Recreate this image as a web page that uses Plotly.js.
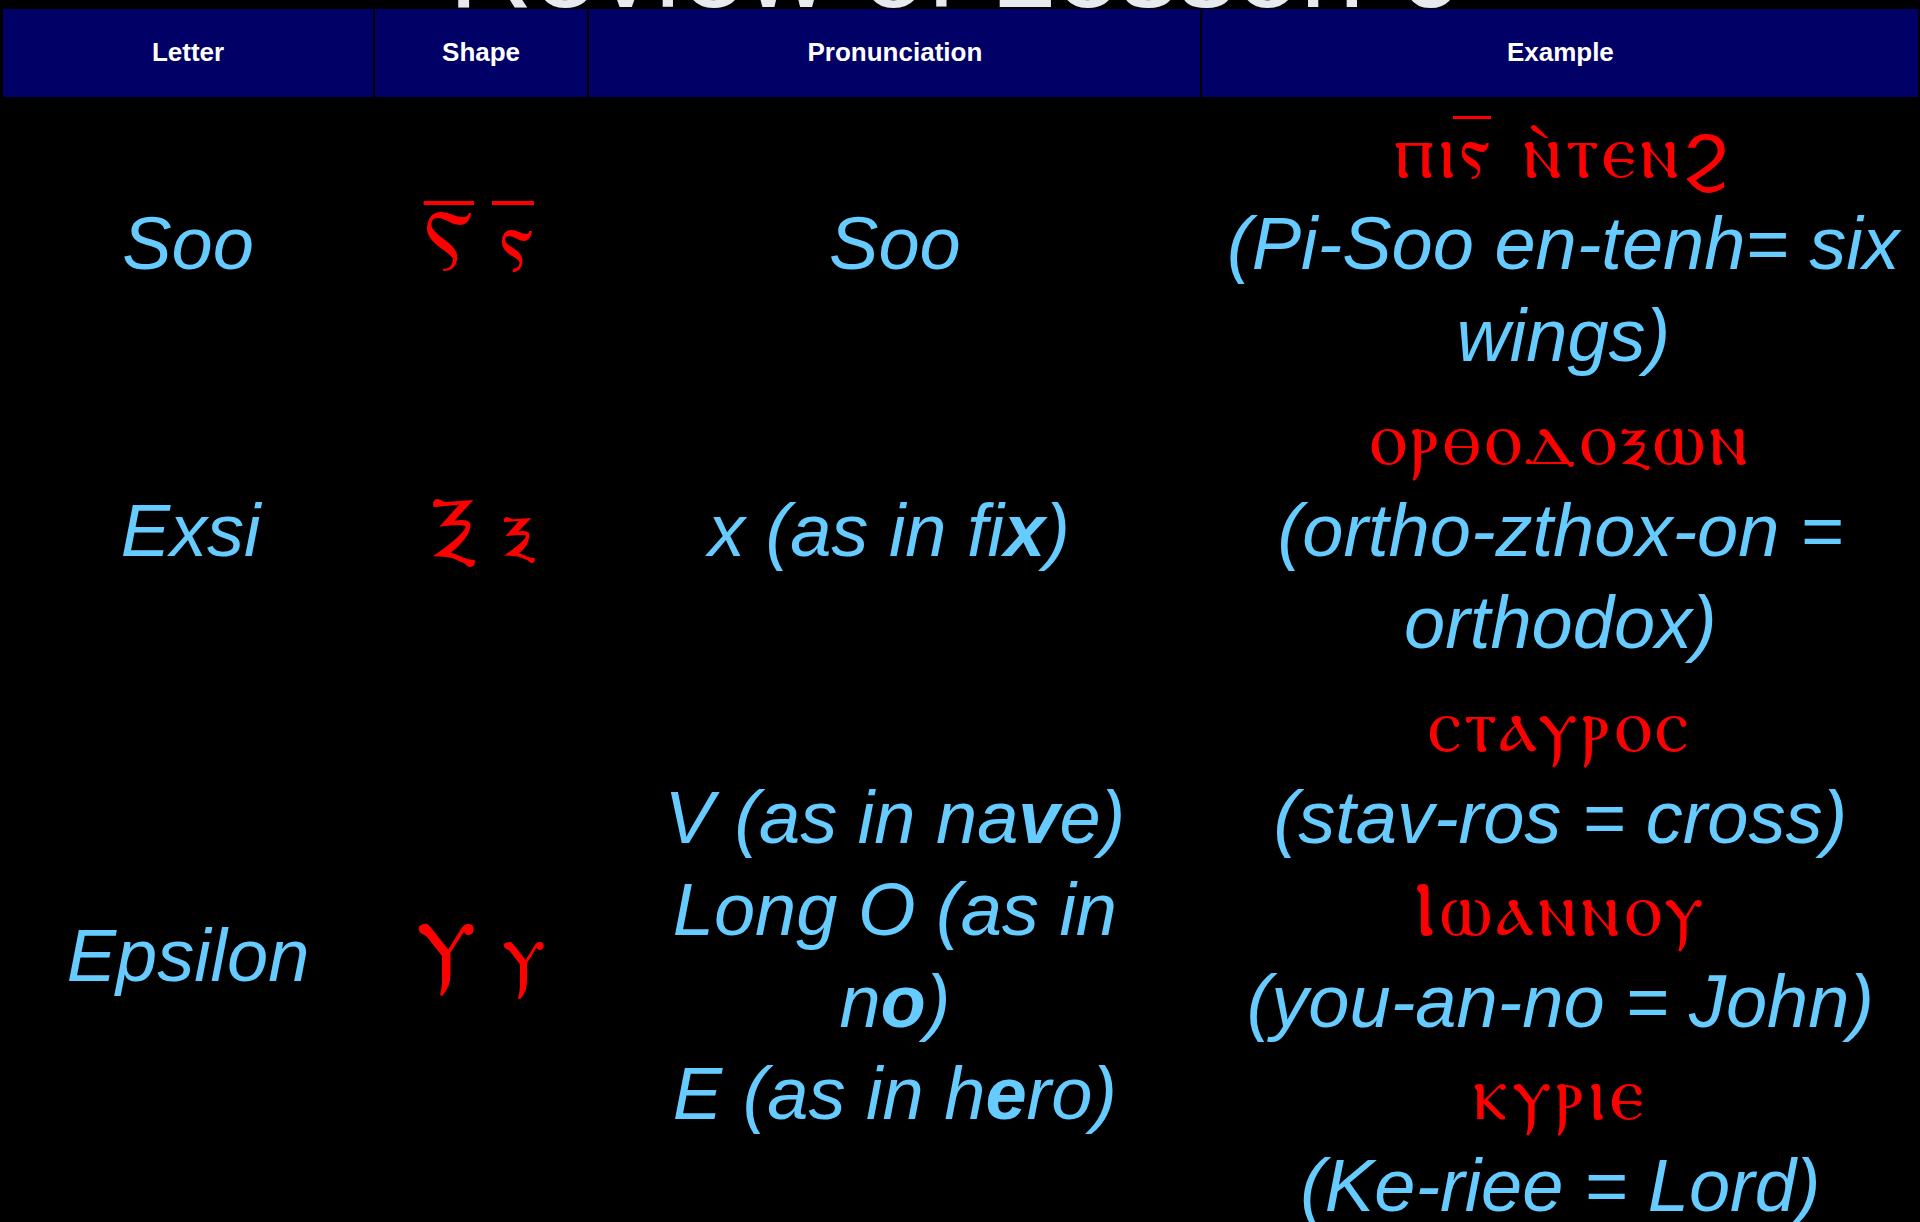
<!DOCTYPE html>
<html>
<head>
<meta charset="utf-8">
<script src="https://cdn.plot.ly/plotly-3.0.1.min.js"></script>
<style>
html,body{margin:0;padding:0;background:#000;overflow:hidden}
.scrollbar-kit{display:none!important}
</style>
</head>
<body>
<div id="chart" style="width:1920px;height:1222px"></div>
<script>
// ---- data ----
const titleText = 'Review of Lesson 6';
const headers = ['Letter', 'Shape', 'Pronunciation', 'Example'];
const letters = ['Soo', 'Exsi', 'Epsilon'];
const shapes = ['Ⲋ̅ ⲋ̅', 'Ⲝ ⲝ', 'Ⲩ ⲩ'];
const pronunciations = [
  ['Soo'],
  ['x (as in fi<b>x</b>)'],
  ['V (as in na<b>v</b>e)', 'Long O (as in', 'n<b>o</b>)', 'E (as in h<b>e</b>ro)']
];
const exampleCoptic = [
  ['ⲡⲓⲋ̅ ⲛ̀ⲧⲉⲛϩ'],
  ['ⲟⲣⲑⲟⲇⲟⲝⲱⲛ'],
  ['ⲥⲧⲁⲩⲣⲟⲥ', 'Ⲓⲱⲁⲛⲛⲟⲩ', 'ⲕⲩⲣⲓⲉ']
];
const exampleEnglish = [
  ['(Pi-Soo en-tenh= six', 'wings)'],
  ['(ortho-zthox-on =', 'orthodox)'],
  ['(stav-ros = cross)', '(you-an-no = John)', '(Ke-riee = Lord)']
];

// ---- styling helpers ----
const BLUE = '#66CCFF';
const RED = '#FF0000';
const BASE = 70.8;        // line pitch driver (1.3em)
const HALF = 88.5;        // base used to centre a single line between two lines
const COPTIC = 76;
const TEXT = 74;
const SHAPE = 84;

function blue(t) {
  return '<span style="font-style:italic;font-size:' + TEXT + 'px">' + t + '</span>';
}
function red(t, size, spacing) {
  return '<span style="font-family:\'DejaVu Sans\';font-style:normal;color:' + RED + ';font-size:' + size + 'px' +
    (spacing ? ';letter-spacing:' + spacing + 'px' : '') + '">' + t + '</span>';
}
const lead = red('\u00a0', COPTIC);

// ---- build cells ----
const colLetter = letters.map((l, i) => i === 2 ? lead + '<br><br>' + blue(l) : lead + '<br>' + blue(l));
const colShape = shapes.map((s, i) => i === 2 ? lead + '<br><br>' + red(s, SHAPE) : lead + '<br>' + red(s, SHAPE));
const colPron = pronunciations.map(lines => lead + '<br>' + lines.map(blue).join('<br>'));
const colExample = exampleCoptic.map((cop, i) => {
  const parts = [];
  if (i < 2) {
    parts.push(red(cop[0], COPTIC, 4));
    exampleEnglish[i].forEach(e => parts.push(blue(e)));
  } else {
    cop.forEach((c, k) => { parts.push(red(c, COPTIC, 4)); parts.push(blue(exampleEnglish[i][k])); });
  }
  return parts.join('<br>');
});
const headerCells = headers.map(h => '<span style="font-size:1px">\u00a0</span><br><span style="font-size:26px"><b>' + h + '</b></span>');

const trace = {
  type: 'table',
  domain: {x: [0.0012, 1], y: [0, 1 - 8 / 1222]},
  columnwidth: [372, 215, 614, 719],
  header: {
    values: headerCells,
    align: 'center',
    height: 90,
    fill: {color: '#000066'},
    line: {color: '#000000', width: 2},
    font: {family: 'Liberation Sans, Arial, sans-serif', size: 34, color: '#FFFFFF'}
  },
  cells: {
    values: [colLetter, colShape, colPron, colExample],
    align: 'center',
    height: 20,
    fill: {color: '#000000'},
    line: {color: '#000000', width: 1},
    font: {
      family: 'Liberation Sans, Arial, sans-serif',
      color: BLUE,
      size: [[BASE, BASE, HALF], [BASE, BASE, HALF], [BASE, BASE, BASE], [BASE, BASE, BASE]]
    }
  }
};

const layout = {
  width: 1920,
  height: 1222,
  paper_bgcolor: '#000000',
  plot_bgcolor: '#000000',
  margin: {l: 0, r: 0, t: 0, b: 0},
  title: {
    text: titleText,
    font: {family: 'Liberation Sans, Arial, sans-serif', size: 116, color: '#E6E9EE'},
    x: 955 / 1920, xanchor: 'center', xref: 'paper',
    y: 1 - 7 / 1222, yanchor: 'bottom', yref: 'container'
  }
};

// centre every line of a multi-line cell on its own (table keeps the block centred)
function centerLines() {
  document.querySelectorAll('#chart .cell-text').forEach(t => {
    const lines = t.querySelectorAll('tspan.line');
    if (lines.length < 2) return;
    const bb = t.getBBox();
    const cx = bb.x + bb.width / 2;
    t.setAttribute('text-anchor', 'middle');
    t.style.textAnchor = 'middle';
    lines.forEach(l => l.setAttribute('x', cx));
  });
}

Plotly.newPlot('chart', [trace], layout, {displayModeBar: false, staticPlot: true}).then(() => {
  centerLines();
  requestAnimationFrame(centerLines);
  setTimeout(centerLines, 300);
});
</script>
</body>
</html>
